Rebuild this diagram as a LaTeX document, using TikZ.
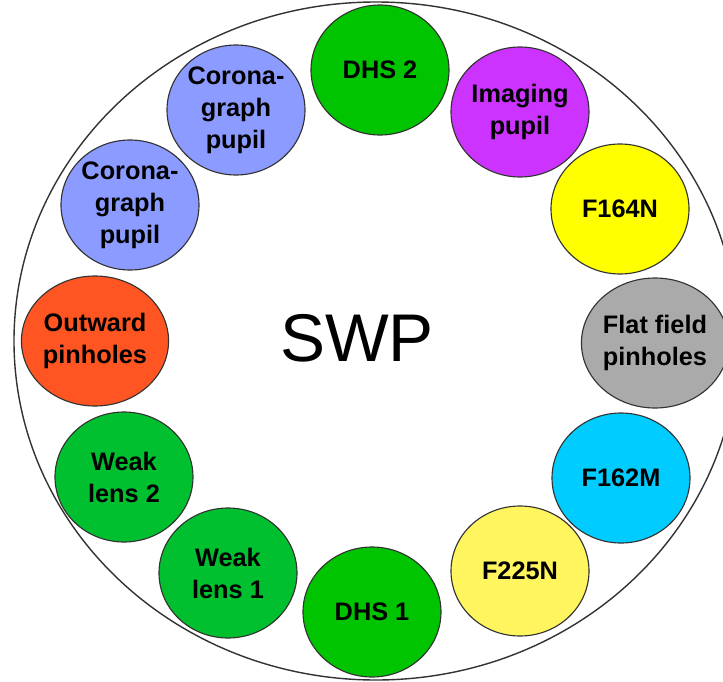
\documentclass[tikz,border=0pt]{standalone}
\usepackage{fontspec}
\setmainfont{Liberation Sans}
\usetikzlibrary{shapes.geometric}
\definecolor{dhsgreen}{HTML}{00C400}
\definecolor{weakgreen}{HTML}{00C030}
\definecolor{coronablue}{HTML}{8C9BFF}
\definecolor{imgpurple}{HTML}{CC33FF}
\definecolor{fyellow}{HTML}{FFFF00}
\definecolor{paleyellow}{HTML}{FFF55F}
\definecolor{flatgray}{HTML}{AAAAAA}
\definecolor{fcyan}{HTML}{00CCFF}
\definecolor{outorange}{HTML}{FF5522}
\definecolor{rim}{HTML}{333333}
\tikzset{disc/.style={ellipse, draw=rim, line width=.8pt, minimum width=3.45cm, minimum height=3.25cm, inner sep=0pt, align=center, font=\fontsize{18}{22.7}\selectfont\bfseries}, wheel/.style={draw=rim, line width=1pt}, big/.style={font=\fontsize{48}{56}\selectfont}}

\begin{document}
\begin{tikzpicture}
\useasboundingbox (-9.4,-8.5) rectangle (8.675,8.525);
\clip (-9.4,-8.5) rectangle (8.675,8.525);
\draw[wheel] (0,0) ellipse[x radius=9.05, y radius=8.475];
\node[big] (swp) at (-.475,.075) {SWP};
\node[disc, fill=dhsgreen] (dhstwo) at (.1,6.775) {DHS 2};
\node[disc, fill=imgpurple] (imaging) at (3.6,5.725) {Imaging\\pupil};
\node[disc, fill=fyellow] (fonesixfour) at (6.1,3.3) {F164N};
\node[disc, fill=flatgray] (flat) at (6.975,-.05) {Flat field\\pinholes};
\node[disc, fill=fcyan] (fonesixtwo) at (6.125,-3.425) {F162M};
\node[disc, fill=paleyellow] (ftwotwofive) at (3.6,-5.75) {F225N};
\node[disc, fill=dhsgreen] (dhsone) at (-.1,-6.775) {DHS 1};
\node[disc, fill=weakgreen] (weakone) at (-3.7,-5.8) {Weak\\lens 1};
\node[disc, fill=weakgreen] (weaktwo) at (-6.3,-3.4) {Weak\\lens 2};
\node[disc, fill=outorange] (outward) at (-7.025,0) {Outward\\pinholes};
\node[disc, fill=coronablue] (coronatwo) at (-6.15,3.4) {Corona-\\graph\\pupil};
\node[disc, fill=coronablue] (coronaone) at (-3.5,5.775) {Corona-\\graph\\pupil};
\end{tikzpicture}
\end{document}
